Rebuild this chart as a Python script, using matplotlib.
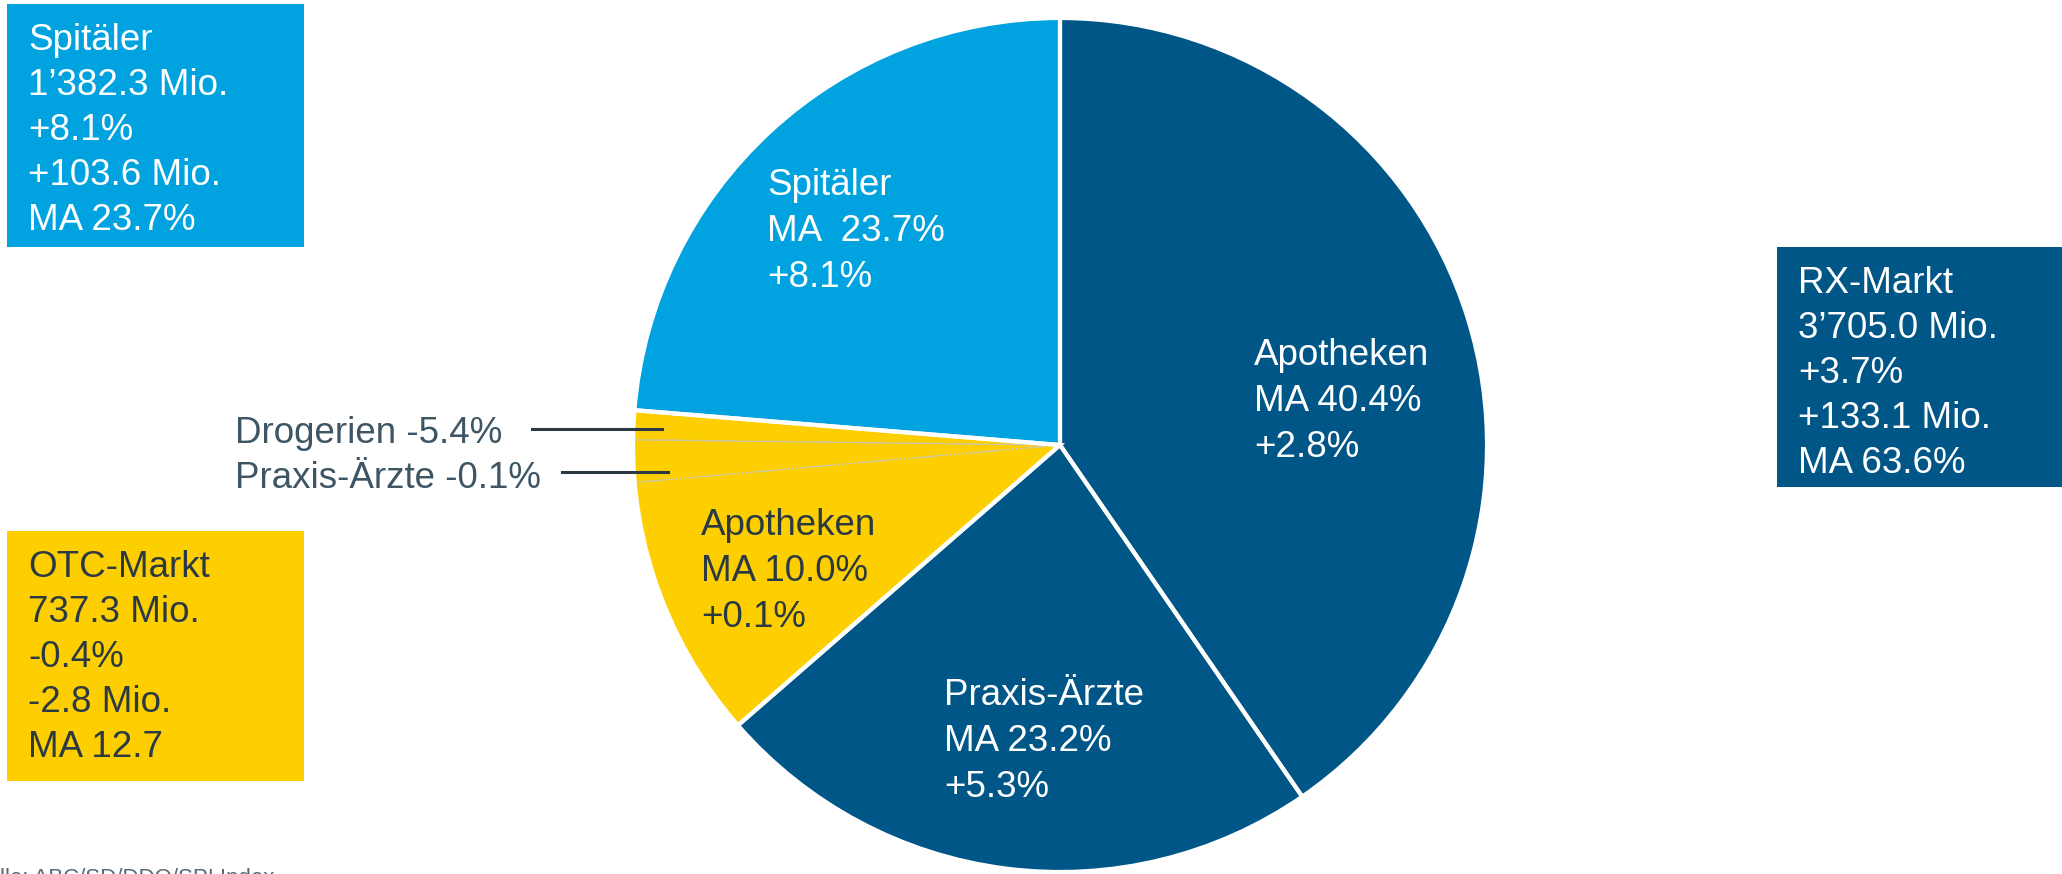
"""
RX / OTC Markt - Marktanteile nach Kanal
"""

import numpy as np
import matplotlib.pyplot as plt
from matplotlib.patches import Rectangle

plt.rcParams['font.family'] = ['Liberation Sans', 'DejaVu Sans']

# Daten (Marktanteile in %)
kanal = ['Apotheken', 'Praxis-Ärzte', 'Apotheken', 'Praxis-Ärzte', 'Drogerien', 'Spitäler']
markt = ['RX', 'RX', 'OTC', 'OTC', 'OTC', 'Spital']
anteil = [40.4, 23.2, 10.0, 1.6, 1.1, 23.7]
wachstum = ['+2.8%', '+5.3%', '+0.1%', '-0.1%', '-5.4%', '+8.1%']
ma_text = ['MA 40.4%', 'MA 23.2%', 'MA 10.0%', '', '', 'MA  23.7%']

# Kästen
box_titel = ['Spitäler', 'OTC-Markt', 'RX-Markt']
box_umsatz = ['1’382.3 Mio.', '737.3 Mio.', '3’705.0 Mio.']
box_wachstum = ['+8.1%', '-0.4%', '+3.7%']
box_delta = ['+103.6 Mio.', '-2.8 Mio.', '+133.1 Mio.']
box_ma = ['MA 23.7%', 'MA 12.7', 'MA 63.6%']

dunkelblau = '#005687'
hellblau = '#00a3df'
gelb = '#fecf00'
dunkel = '#2b3a42'
grau_text = '#3e5564'
farben = {'RX': dunkelblau, 'OTC': gelb, 'Spital': hellblau}

W, H = 2062, 874
FS = 26.5
fig = plt.figure(figsize=(W / 100, H / 100), dpi=100)
ax = fig.add_axes([0, 0, 1, 1])
ax.set_xlim(0, W)
ax.set_ylim(0, H)
ax.set_aspect('equal')
ax.axis('off')

cx, cy, r = 1060, H - 445, 427

# Grundtorte
wedges, _ = ax.pie(anteil, colors=[farben[m] for m in markt], startangle=90,
                   counterclock=False, center=(cx, cy), radius=r,
                   wedgeprops=dict(linewidth=0))
ax.set_xlim(0, W)
ax.set_ylim(0, H)

# kleine OTC-Stücke gestrichelt umrandet
for i in (3, 4):
    wedges[i].set_edgecolor('#c4c4c4')
    wedges[i].set_linewidth(1.0)
    wedges[i].set_linestyle((0, (2, 1)))

# weisse Trennlinien zwischen den Marktgruppen
gruppen = [anteil[0], anteil[1], sum(anteil[2:5]), anteil[5]]
ax.pie(gruppen, colors=['none'] * 4, startangle=90, counterclock=False,
       center=(cx, cy), radius=r,
       wedgeprops=dict(linewidth=3, edgecolor='white', facecolor='none'))
ax.set_xlim(0, W)
ax.set_ylim(0, H)


def zeilen(x, y0, lines, color, pitch=45, size=FS):
    for i, s in enumerate(lines):
        ax.text(x, H - (y0 + i * pitch), s, color=color, fontsize=size,
                ha='left', va='baseline')


# Beschriftungen in der Torte
zeilen(1254, 365, [kanal[0], ma_text[0], wachstum[0]], 'white', pitch=46)
zeilen(944, 705, [kanal[1], ma_text[1], wachstum[1]], 'white', pitch=46)
zeilen(701, 535, [kanal[2], ma_text[2], wachstum[2]], dunkel, pitch=46)
zeilen(767, 195, [kanal[5], ma_text[5], wachstum[5]], 'white', pitch=46)

# kleine Stücke aussen
ax.text(235, H - 443, kanal[4] + ' ' + wachstum[4], color=grau_text,
        fontsize=FS, va='baseline')
ax.plot([532, 662], [H - 429, H - 429], color=dunkel, lw=2.2)
ax.text(235, H - 488, kanal[3] + ' ' + wachstum[3], color=grau_text,
        fontsize=FS, va='baseline')
ax.plot([562, 668], [H - 472, H - 472], color=dunkel, lw=2.2)

# Kästen
kasten = [(7, 4, 297, 243, hellblau, 'white'),
          (7, 531, 297, 250, gelb, dunkel),
          (1777, 247, 290, 240, dunkelblau, 'white')]
for i, (x, y, w, h, fc, tc) in enumerate(kasten):
    ax.add_patch(Rectangle((x, H - y - h), w, h, facecolor=fc, edgecolor='none'))
    zeilen(x + 21, y + 46, [box_titel[i], box_umsatz[i], box_wachstum[i],
                            box_delta[i], box_ma[i]], tc)

# Quelle (unten abgeschnitten wie im Original)
ax.text(-42, H - 884, 'Quelle: ABC/SD/DDO/SPI Index', color='#5a6a75',
        fontsize=16, va='baseline', clip_on=False)

fig.savefig('out.png', dpi=100)
